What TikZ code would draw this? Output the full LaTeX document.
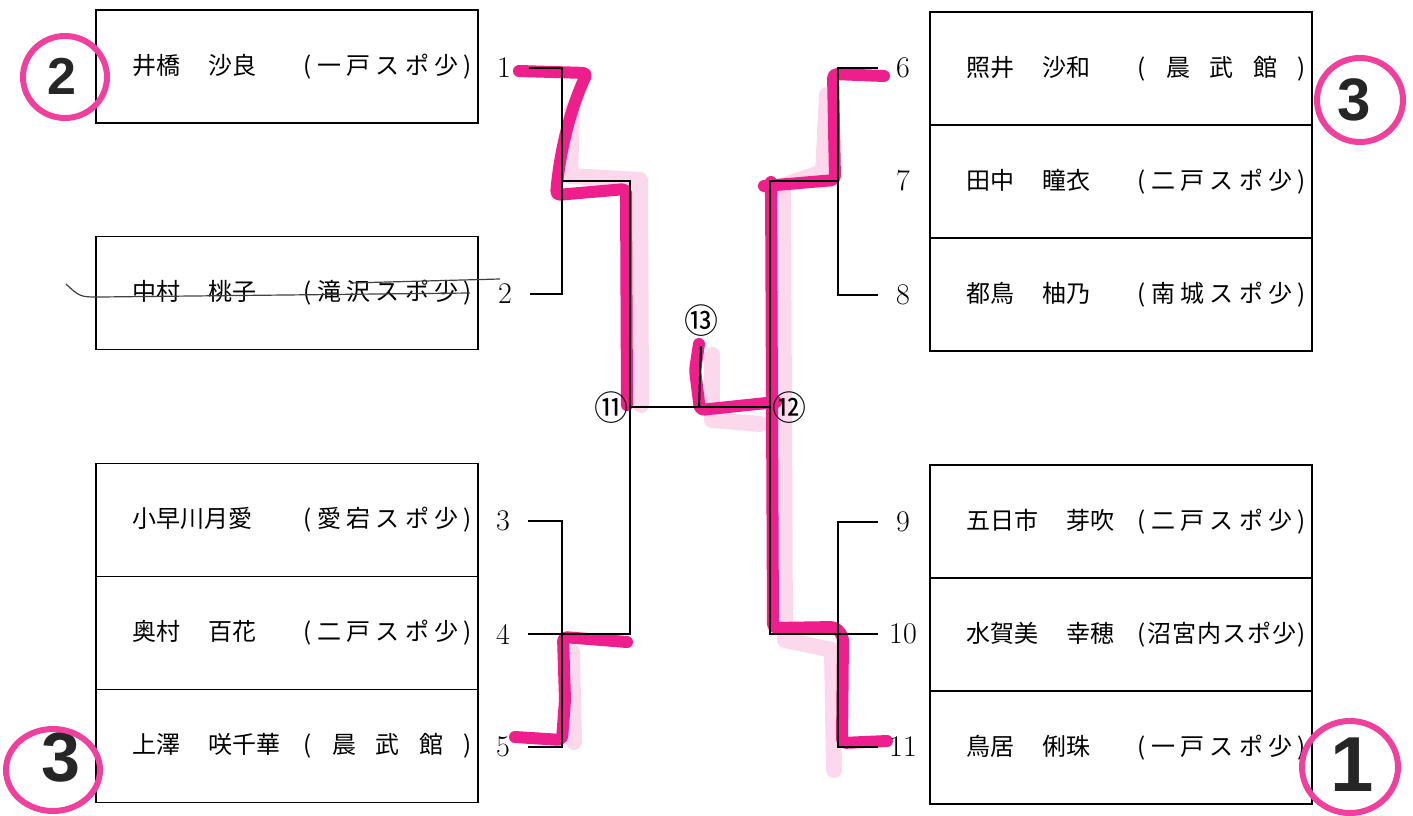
\documentclass[tikz,border=0pt]{standalone}
\usepackage{fontspec}
\newfontfamily\jp{Noto Sans CJK JP}
\newfontfamily\hand{Liberation Sans}
\usetikzlibrary{positioning}

\definecolor{marker}{RGB}{238,30,140}
\definecolor{markerlt}{RGB}{250,190,225}

% spread the characters of a team name over a fixed width
\makeatletter
\def\sprd#1{\sprd@#1\relax}
\def\sprd@#1#2{#1\ifx\relax#2\else\hfil\expandafter\sprd@\expandafter#2\fi}
\makeatother
\newcommand{\player}[3]{\hbox to 370pt{\hspace{30pt}#1\hspace{1.2em}#2\hfill\hbox to 168pt{\sprd{#3}}}}

\begin{document}
\begin{tikzpicture}[x=1pt, y=-1pt,
node distance = 0pt and 0pt,
entry/.style={rectangle, draw=black, line width=1.8pt, minimum width=382pt, minimum height=113pt, inner sep=0pt, outer sep=0pt, font=\jp\fontsize{24}{26}\selectfont},
num/.style={minimum width=50pt, inner sep=0pt, font=\fontsize{30}{30}\selectfont},
matchno/.style={inner sep=0pt, font=\jp\fontsize{34}{34}\selectfont},
wire/.style={line width=2pt},
hl/.style={line width=12pt, marker, line cap=round, line join=round, rounded corners=4pt},
hlsoft/.style={line width=16pt, markerlt, opacity=0.6, line cap=round, line join=round},
ring/.style={line width=6pt, marker!85},
rankmark/.style={font=\hand\bfseries\fontsize{#1}{#1}\selectfont, text=black!85, inner sep=0pt},
strike/.style={line width=1.2pt, black!75}]

\useasboundingbox (0,0) rectangle (1413,816);

% highlighter
\draw[hlsoft] (572,110) -- (570,176) -- (640,180) -- (641,405);
\draw[hlsoft] (572,652) -- (574,742);
\draw[hlsoft] (827,95) -- (823,172) -- (770,190);
\draw[hlsoft] (783,190) -- (785,640) -- (832,650) -- (834,770);
\draw[hlsoft] (712,355) -- (712,420) -- (760,424);
\draw[hl] (519,71) -- (587,73) .. controls (570,110) and (560,150) .. (556,195) -- (626,189) -- (627,405);
\draw[hl] (515,737) -- (562,740) -- (565,700) -- (563,637) -- (627,642);
\draw[hl] (884,76) -- (833,74) -- (835,180) -- (764,186);
\draw[hl] (887,741) -- (842,743) -- (843,636) -- (835,627) -- (773,628) -- (771,182);
\draw[hl] (776,402) -- (700,410) -- (695,370) -- (699,344);

% left side
\node[entry] (p1) at (287,66.5) {\player{井橋}{沙良}{(一戸スポ少)}};
\node[entry] (p2) at (287,293) {\player{中村}{桃子}{(滝沢スポ少)}};
\node[entry] (p3) at (287,520) {\player{小早川月愛}{}{(愛宕スポ少)}};
\node[entry] (p4) [below=of p3] {\player{奥村}{百花}{(二戸スポ少)}};
\node[entry] (p5) [below=of p4] {\player{上澤}{咲千華}{(晨武館)}};

% right side
\node[entry] (p6) at (1121,68.5) {\player{照井}{沙和}{(晨武館)}};
\node[entry] (p7) [below=of p6] {\player{田中}{瞳衣}{(二戸スポ少)}};
\node[entry] (p8) [below=of p7] {\player{都鳥}{柚乃}{(南城スポ少)}};
\node[entry] (p9) at (1121,521.5) {\player{五日市}{芽吹}{(二戸スポ少)}};
\node[entry] (p10) [below=of p9] {\player{水賀美}{幸穂}{(沼宮内スポ少)}};
\node[entry] (p11) [below=of p10] {\player{鳥居}{俐珠}{(一戸スポ少)}};

\draw[strike] (66,284) .. controls (80,297) .. (100,297) -- (470,293);
\draw[strike] (350,283) -- (500,279);

% draw numbers
\node[num] (n1) at (504,68) {1};
\node[num] (n2) at (505,294) {2};
\node[num] (n3) at (503,521) {3};
\node[num] (n4) at (503,634) {4};
\node[num] (n5) at (503,747) {5};
\node[num] (n6) at (903,68) {6};
\node[num] (n7) at (903,181) {7};
\node[num] (n8) at (903,295) {8};
\node[num] (n9) at (903,522) {9};
\node[num] (n10) at (903,634) {10};
\node[num] (n11) at (903,747) {11};

\node[matchno] (c11) at (611,408) {⑪};
\node[matchno] (c12) at (789,408) {⑫};
\node[matchno] (c13) at (701,321) {⑬};

\coordinate (m1) at (562,181);
\coordinate (m3) at (562,634);
\coordinate (m11) at (630,407);
\coordinate (m12) at (770,407);
\coordinate (m13) at (699,407);
\coordinate (r1) at (838,181);
\coordinate (r2) at (838,634);

% bracket
\draw[wire] (n1.east) -| (m1);
\draw[wire] (n2.east) -| (m1);
\draw[wire] (m1) -| (m11);
\draw[wire] (n3.east) -| (m3);
\draw[wire] (n5.east) -| (m3);
\draw[wire] (n4.east) -| (m11);
\draw[wire] (m11) -- (m12);
\draw[wire] (m13) -- ([yshift=-9pt]c13.south);
\draw[wire] (n6.west) -| (r1);
\draw[wire] (n8.west) -| (r1);
\draw[wire] (r1) -| (m12);
\draw[wire] (n9.west) -| (r2);
\draw[wire] (n11.west) -| (r2);
\draw[wire] (n10.west) -| (m12);

% rankings
\node[rankmark=52] (rk1) at (62,76) {2};
\node[rankmark=70] (rk2) at (61,757) {3};
\node[rankmark=60] (rk3) at (1354,100) {3};
\node[rankmark=78] (rk4) at (1352,765) {1};
\draw[ring] ([xshift=3pt,yshift=-1pt]rk1.center) ellipse [x radius=42, y radius=41];
\draw[ring] ([xshift=-8pt,yshift=-13pt]rk2.center) ellipse [x radius=47, y radius=41];
\draw[ring] ([xshift=6pt]rk3.center) ellipse [x radius=43, y radius=42];
\draw[ring] ([xshift=-2pt,yshift=-2pt]rk4.center) ellipse [x radius=48, y radius=46];
\end{tikzpicture}
\end{document}
